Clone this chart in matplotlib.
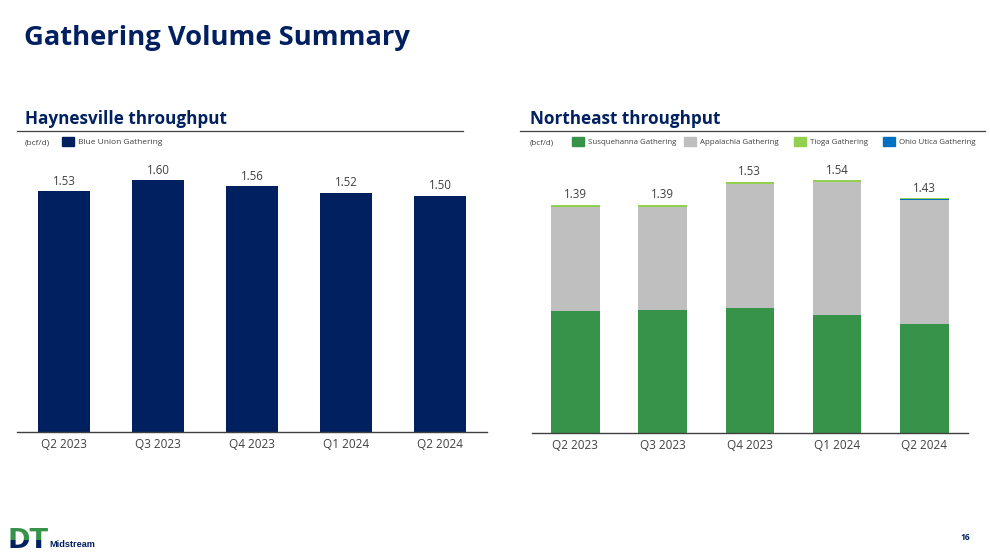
import matplotlib
matplotlib.use("Agg")
import matplotlib.pyplot as plt
from matplotlib.patches import Rectangle
from matplotlib.transforms import Bbox, TransformedBbox

# Data (bcf/d)
quarters = ["Q2 2023", "Q3 2023", "Q4 2023", "Q1 2024", "Q2 2024"]
blue_union = [1.53, 1.60, 1.56, 1.52, 1.50]

ne_totals = [1.39, 1.39, 1.53, 1.54, 1.43]
susquehanna = [0.74, 0.75, 0.76, 0.72, 0.665]
tioga = [0.012, 0.012, 0.012, 0.012, 0.004]
ohio_utica = [0.0, 0.0, 0.0, 0.0, 0.007]
appalachia = [t - s - g - o for t, s, g, o in zip(ne_totals, susquehanna, tioga, ohio_utica)]

NAVY = "#002060"
GREEN = "#37934A"
GRAY = "#BFBFBF"
LIME = "#92D050"
BLUE = "#0070C0"
TEXT = "#404040"

W, H = 990, 559
plt.rcParams["font.family"] = ["Open Sans", "DejaVu Sans"]

fig = plt.figure(figsize=(W / 100, H / 100), dpi=100)


def fx(px):
    return px / W


def fy(py):
    return 1 - py / H


def make_axes(x0, x1, base, top, scale):
    ax = fig.add_axes([fx(x0), fy(base), fx(x1 - x0), (base - top) / H])
    ax.set_xlim(-0.5, 4.5)
    ax.set_ylim(0, (base - top) / scale)
    for side in ["top", "right", "left"]:
        ax.spines[side].set_visible(False)
    ax.spines["bottom"].set_color(TEXT)
    ax.spines["bottom"].set_linewidth(1.0)
    ax.set_yticks([])
    ax.set_xticks(range(len(quarters)))
    ax.set_xticklabels(quarters, fontsize=8.5, color=TEXT)
    ax.tick_params(axis="x", length=0, pad=4.5)
    return ax


def legend_item(x, label, color, size):
    fig.patches.append(Rectangle((fx(x), fy(145.5)), fx(12), 9 / H,
                                 transform=fig.transFigure, color=color))
    fig.text(fx(x + 16), fy(142.5), label, fontsize=size, color=TEXT, va="center")


# Title
fig.text(fx(24), fy(38), "Gathering Volume Summary", fontsize=19.7,
         fontweight="bold", color=NAVY, va="center")

# Haynesville panel
fig.text(fx(25), fy(119.5), "Haynesville throughput", fontsize=12.3,
         fontweight="bold", color=NAVY, va="center")
fig.add_artist(plt.Line2D([fx(17), fx(463)], [fy(131.3), fy(131.3)],
                          color=TEXT, lw=0.9, transform=fig.transFigure))
fig.text(fx(25), fy(142.5), "(bcf/d)", fontsize=6.0, color=TEXT, va="center")
legend_item(62, "Blue Union Gathering", NAVY, 6.0)

ax1 = make_axes(17, 487, 432, 150, 157.5)
x = range(len(quarters))
ax1.bar(x, blue_union, width=0.56, color=NAVY)
for i, v in enumerate(blue_union):
    ax1.annotate(f"{v:.2f}", (i, v), xytext=(0, 2.5), textcoords="offset points",
                 ha="center", va="bottom", fontsize=8.3, color=TEXT)

# Northeast panel
fig.text(fx(530), fy(119.5), "Northeast throughput", fontsize=12.3,
         fontweight="bold", color=NAVY, va="center")
fig.add_artist(plt.Line2D([fx(520), fx(985)], [fy(131.3), fy(131.3)],
                          color=TEXT, lw=0.9, transform=fig.transFigure))
fig.text(fx(530), fy(142.5), "(bcf/d)", fontsize=5.8, color=TEXT, va="center")
legend_item(572, "Susquehanna Gathering", GREEN, 5.7)
legend_item(684, "Appalachia Gathering", GRAY, 5.7)
legend_item(794, "Tioga Gathering", LIME, 5.7)
legend_item(883, "Ohio Utica Gathering", BLUE, 5.7)

ax2 = make_axes(531.7, 968, 432.7, 150, 164.1)
bottom = [0.0] * len(quarters)
for vals, col in [(susquehanna, GREEN), (appalachia, GRAY), (ohio_utica, BLUE), (tioga, LIME)]:
    ax2.bar(x, vals, width=0.556, bottom=bottom, color=col)
    bottom = [b + v for b, v in zip(bottom, vals)]
for i, v in enumerate(ne_totals):
    ax2.annotate(f"{v:.2f}", (i, v), xytext=(0, 2.5), textcoords="offset points",
                 ha="center", va="bottom", fontsize=8.3, color=TEXT)

# Footer: logo and page number
for col, y0, y1 in [(GREEN, 520, 540), (NAVY, 540, 556)]:
    t = fig.text(fx(7), fy(548), "DT", fontsize=19.5, fontweight="heavy",
                 family="DejaVu Sans", color=col, va="baseline")
    t.set_clip_box(TransformedBbox(Bbox([[0, fy(y1)], [fx(60), fy(y0)]]), fig.transFigure))
    t.set_clip_on(True)
fig.text(fx(49), fy(547), "Midstream", fontsize=6.6, fontweight="bold",
         family="Liberation Sans", color=NAVY, va="baseline")
fig.text(fx(970), fy(537), "16", fontsize=6, fontweight="bold", color=NAVY,
         ha="right", va="center")

fig.savefig("out.png", dpi=100)
